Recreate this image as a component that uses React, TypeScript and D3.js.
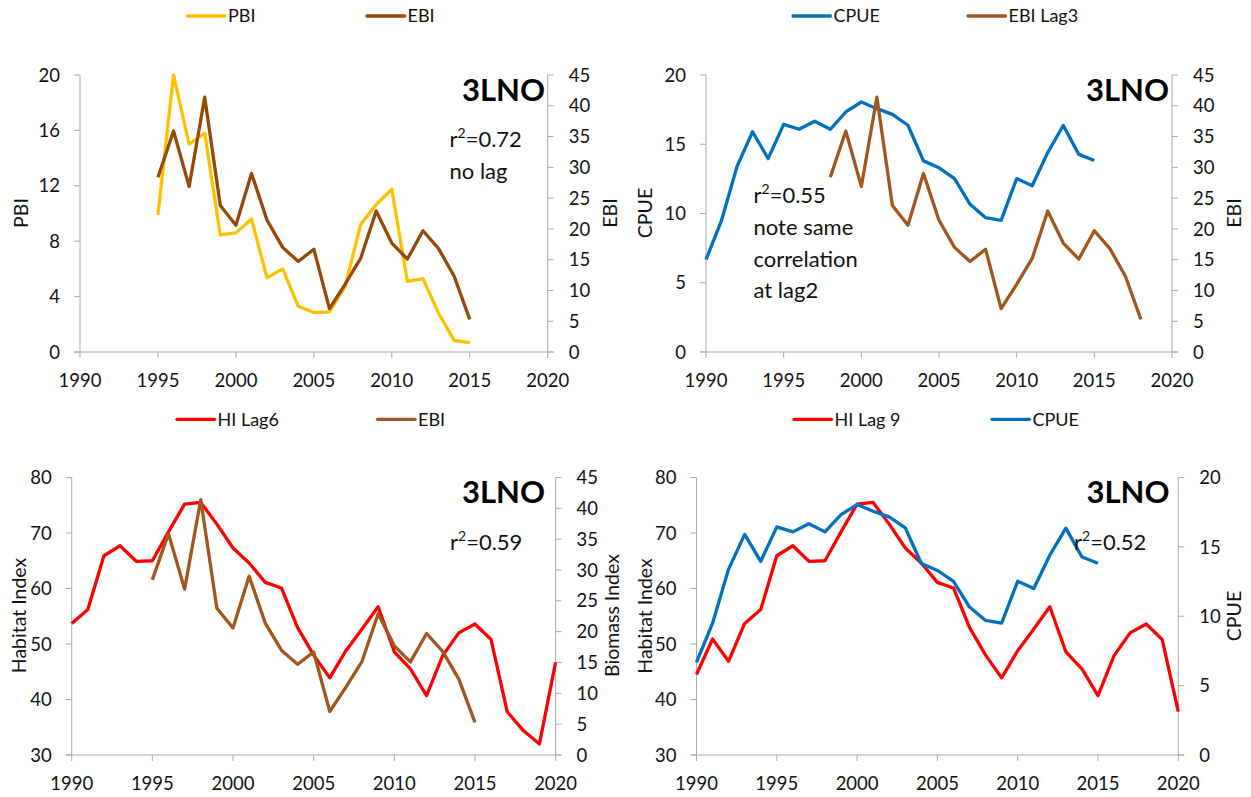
import React from "react";
import * as d3 from "d3";

// ---------- DATA ----------
const ebiYears = [1995, 1996, 1997, 1998, 1999, 2000, 2001, 2002, 2003, 2004, 2005, 2006, 2007, 2008, 2009, 2010, 2011, 2012, 2013, 2014, 2015];
const pbiValues = [9.9, 20.0, 15.0, 15.8, 8.45, 8.6, 9.6, 5.35, 6.0, 3.3, 2.85, 2.9, 4.7, 9.2, 10.65, 11.75, 5.1, 5.3, 2.8, 0.84, 0.67];
const ebiValues = [28.4, 35.9, 26.9, 41.4, 23.8, 20.6, 29.0, 21.4, 17.0, 14.7, 16.7, 7.05, 11.0, 15.2, 22.9, 17.7, 15.1, 19.7, 16.8, 12.3, 5.3];

const cpueYears = [1990, 1991, 1992, 1993, 1994, 1995, 1996, 1997, 1998, 1999, 2000, 2001, 2002, 2003, 2004, 2005, 2006, 2007, 2008, 2009, 2010, 2011, 2012, 2013, 2014, 2015];
const cpueValues = [6.67, 9.5, 13.4, 15.9, 13.96, 16.44, 16.08, 16.66, 16.08, 17.33, 18.05, 17.57, 17.16, 16.37, 13.8, 13.3, 12.52, 10.66, 9.7, 9.5, 12.52, 12.0, 14.4, 16.35, 14.27, 13.82];

const hiYears = [1981, 1982, 1983, 1984, 1985, 1986, 1987, 1988, 1989, 1990, 1991, 1992, 1993, 1994, 1995, 1996, 1997, 1998, 1999, 2000, 2001, 2002, 2003, 2004, 2005, 2006, 2007, 2008, 2009, 2010, 2011, 2012, 2013, 2014];
const hiValues = [44.5, 50.9, 46.9, 53.7, 56.2, 65.9, 67.7, 64.9, 65.0, 70.2, 75.2, 75.5, 71.6, 67.3, 64.6, 61.1, 60.1, 53.0, 48.0, 43.9, 48.8, 52.7, 56.7, 48.6, 45.5, 40.7, 47.9, 52.0, 53.6, 50.8, 37.8, 34.4, 32.0, 46.7];

const xTickYears = [1990, 1995, 2000, 2005, 2010, 2015, 2020];
const ticksPBI = [0, 4, 8, 12, 16, 20];
const ticksEBI = [0, 5, 10, 15, 20, 25, 30, 35, 40, 45];
const ticksCPUE = [0, 5, 10, 15, 20];
const ticksHI = [30, 40, 50, 60, 70, 80];

// ---------- STYLE ----------
const FONT = "Lato, 'Open Sans', sans-serif";
const AXIS = "#A9A9A9";
const C_PBI = "#FFC000";
const C_EBI = "#974806";
const C_EBI2 = "#A0561C";
const C_CPUE = "#0070C0";
const C_HI = "#FF0000";
const LW = 3.3;

type Series = { years: number[]; values: number[]; color: string; axis: "left" | "right"; lag?: number };

type PanelCfg = {
  x0: number; x1: number; yTop: number; yBot: number;
  left: [number, number]; leftTicks: number[];
  right: [number, number]; rightTicks: number[];
  leftTitle: string; rightTitle: string;
  leftTitleX: number; rightTitleX: number; titleY: number;
  series: Series[];
  legend: { label: string; color: string; x: number }[];
  legendY: number;
  tagX: number; tagY: number;
  notes: { x: number; y: number; lines: { sup?: boolean; text: string }[] };
};

const panels: PanelCfg[] = [
  {
    x0: 80, x1: 547.7, yTop: 75, yBot: 352,
    left: [0, 20], leftTicks: ticksPBI, right: [0, 45], rightTicks: ticksEBI,
    leftTitle: "PBI", rightTitle: "EBI", leftTitleX: 20.6, rightTitleX: 609, titleY: 213,
    series: [
      { years: ebiYears, values: pbiValues, color: C_PBI, axis: "left" },
      { years: ebiYears, values: ebiValues, color: C_EBI, axis: "right" },
    ],
    legend: [{ label: "PBI", color: C_PBI, x: 187.5 }, { label: "EBI", color: C_EBI, x: 367 }],
    legendY: 16,
    tagX: 545, tagY: 101,
    notes: { x: 449.5, y: 147.3, lines: [{ sup: true, text: "=0.72" }, { text: "no lag" }] },
  },
  {
    x0: 706, x1: 1172, yTop: 75, yBot: 352,
    left: [0, 20], leftTicks: ticksCPUE, right: [0, 45], rightTicks: ticksEBI,
    leftTitle: "CPUE", rightTitle: "EBI", leftTitleX: 644, rightTitleX: 1233, titleY: 213,
    series: [
      { years: cpueYears, values: cpueValues, color: C_CPUE, axis: "left" },
      { years: ebiYears, values: ebiValues, color: C_EBI2, axis: "right", lag: 3 },
    ],
    legend: [{ label: "CPUE", color: C_CPUE, x: 793 }, { label: "EBI Lag3", color: C_EBI2, x: 968 }],
    legendY: 16,
    tagX: 1169, tagY: 101,
    notes: { x: 753.5, y: 203.3, lines: [{ sup: true, text: "=0.55" }, { text: "note same" }, { text: "correlation" }, { text: "at lag2" }] },
  },
  {
    x0: 71.7, x1: 555.6, yTop: 477.5, yBot: 755,
    left: [30, 80], leftTicks: ticksHI, right: [0, 45], rightTicks: ticksEBI,
    leftTitle: "Habitat Index", rightTitle: "Biomass Index", leftTitleX: 18, rightTitleX: 611, titleY: 615.5,
    series: [
      { years: hiYears, values: hiValues, color: C_HI, axis: "left", lag: 6 },
      { years: ebiYears, values: ebiValues, color: C_EBI2, axis: "right" },
    ],
    legend: [{ label: "HI Lag6", color: C_HI, x: 177 }, { label: "EBI", color: C_EBI2, x: 377.5 }],
    legendY: 419.3,
    tagX: 545, tagY: 503.3,
    notes: { x: 450, y: 550, lines: [{ sup: true, text: "=0.59" }] },
  },
  {
    x0: 696.5, x1: 1178.3, yTop: 477.5, yBot: 755,
    left: [30, 80], leftTicks: ticksHI, right: [0, 20], rightTicks: ticksCPUE,
    leftTitle: "Habitat Index", rightTitle: "CPUE", leftTitleX: 644, rightTitleX: 1233, titleY: 616,
    series: [
      { years: hiYears, values: hiValues, color: C_HI, axis: "left", lag: 9 },
      { years: cpueYears, values: cpueValues, color: C_CPUE, axis: "right" },
    ],
    legend: [{ label: "HI Lag 9", color: C_HI, x: 794 }, { label: "CPUE", color: C_CPUE, x: 992 }],
    legendY: 419.3,
    tagX: 1169.5, tagY: 503.3,
    notes: { x: 1074, y: 550, lines: [{ sup: true, text: "=0.52" }] },
  },
];

const TICK_FS = 18.5;
const TITLE_FS = 19.5;
const LEG_FS = 18;
const NOTE_FS = 22;
const NOTE_LH = 31.7;

function Panel({ p }: { p: PanelCfg }) {
  const x = d3.scaleLinear().domain([1990, 2020]).range([p.x0, p.x1]);
  const yl = d3.scaleLinear().domain(p.left).range([p.yBot, p.yTop]);
  const yr = d3.scaleLinear().domain(p.right).range([p.yBot, p.yTop]);
  const capOff = TICK_FS * 0.36;

  return (
    <g>
      {/* axes */}
      <line x1={p.x0} x2={p.x0} y1={p.yTop} y2={p.yBot} stroke={AXIS} strokeWidth={1} />
      <line x1={p.x1} x2={p.x1} y1={p.yTop} y2={p.yBot} stroke={AXIS} strokeWidth={1} />
      <line x1={p.x0 - 6} x2={p.x1 + 6} y1={p.yBot} y2={p.yBot} stroke={AXIS} strokeWidth={1} />
      {p.leftTicks.map((t) => (
        <g key={"l" + t}>
          <line x1={p.x0 - 6} x2={p.x0} y1={yl(t)} y2={yl(t)} stroke={AXIS} />
          <text x={p.x0 - 20} y={yl(t) + capOff} textAnchor="end" fontSize={TICK_FS} fontFamily={FONT} fill="#111">{t}</text>
        </g>
      ))}
      {p.rightTicks.map((t) => (
        <g key={"r" + t}>
          <line x1={p.x1} x2={p.x1 + 6} y1={yr(t)} y2={yr(t)} stroke={AXIS} />
          <text x={p.x1 + 21} y={yr(t) + capOff} textAnchor="start" fontSize={TICK_FS} fontFamily={FONT} fill="#111">{t}</text>
        </g>
      ))}
      {xTickYears.map((t) => (
        <g key={"x" + t}>
          <line x1={x(t)} x2={x(t)} y1={p.yBot} y2={p.yBot + 6} stroke={AXIS} />
          <text x={x(t)} y={p.yBot + 34.5} textAnchor="middle" fontSize={TICK_FS} fontFamily={FONT} fill="#111">{t}</text>
        </g>
      ))}
      {/* axis titles */}
      <text transform={`translate(${p.leftTitleX},${p.titleY}) rotate(-90)`} textAnchor="middle" dominantBaseline="central" fontSize={TITLE_FS} fontFamily={FONT} fill="#111">{p.leftTitle}</text>
      <text transform={`translate(${p.rightTitleX},${p.titleY}) rotate(-90)`} textAnchor="middle" dominantBaseline="central" fontSize={TITLE_FS} fontFamily={FONT} fill="#111">{p.rightTitle}</text>
      {/* series */}
      {p.series.map((s, i) => {
        const ys = s.axis === "left" ? yl : yr;
        const pts: [number, number][] = s.years
          .map((yr0, k) => [yr0 + (s.lag || 0), s.values[k]] as [number, number])
          .filter((d) => d[0] >= 1990 && d[0] <= 2020);
        const line = d3.line<[number, number]>().x((d) => x(d[0])).y((d) => ys(d[1]));
        return <path key={i} d={line(pts) || ""} fill="none" stroke={s.color} strokeWidth={LW} strokeLinejoin="round" strokeLinecap="butt" />;
      })}
      {/* legend */}
      {p.legend.map((l) => (
        <g key={l.label}>
          <line x1={l.x} x2={l.x + 37.5} y1={p.legendY} y2={p.legendY} stroke={l.color} strokeWidth={LW} strokeLinecap="round" />
          <text x={l.x + 40.5} y={p.legendY + LEG_FS * 0.36} fontSize={LEG_FS} fontFamily={FONT} fill="#111">{l.label}</text>
        </g>
      ))}
      {/* tag */}
      <text x={p.tagX} y={p.tagY} textAnchor="end" fontSize={31} fontWeight="bold" fontFamily={FONT} fill="#000">3LNO</text>
      {/* notes */}
      {p.notes.lines.map((ln, i) => (
        <text key={i} x={p.notes.x} y={p.notes.y + i * NOTE_LH} fontSize={NOTE_FS} fontFamily={FONT} fill="#111">
          {ln.sup ? (
            <>
              r<tspan fontSize={14} dy={-9}>2</tspan>
              <tspan dy={9}>{ln.text}</tspan>
            </>
          ) : (
            ln.text
          )}
        </text>
      ))}
    </g>
  );
}

export default function App() {
  return (
    <svg width={1251} height={797} style={{ position: "absolute", left: 0, top: 0, background: "#fff" }}>
      <rect x={0} y={0} width={1251} height={797} fill="#fff" />
      {panels.map((p, i) => (
        <Panel key={i} p={p} />
      ))}
    </svg>
  );
}
